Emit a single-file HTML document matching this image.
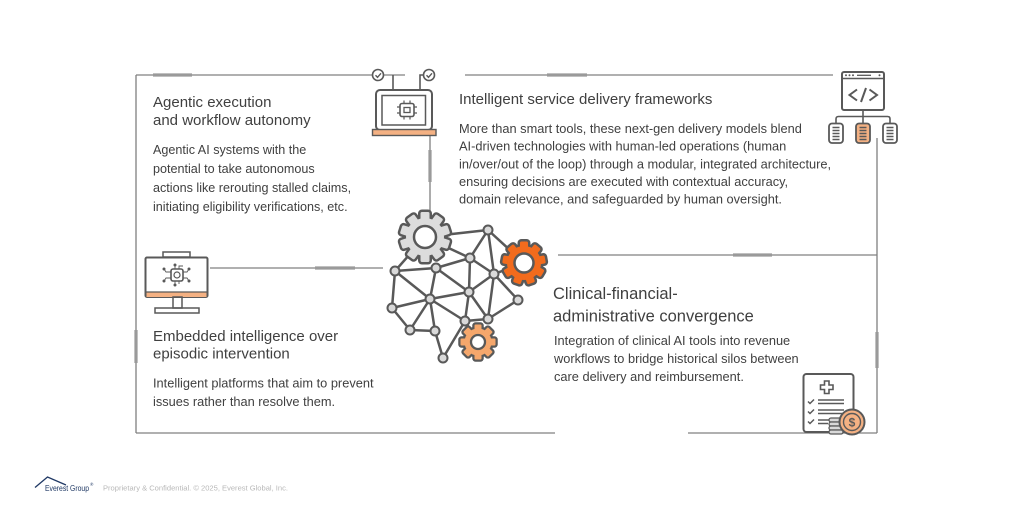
<!DOCTYPE html>
<html><head><meta charset="utf-8"><style>
html,body{margin:0;padding:0;background:#fff;}
svg{display:block;}
</style></head><body>
<svg width="1024" height="519" viewBox="0 0 1024 519" xmlns="http://www.w3.org/2000/svg" font-family="'Liberation Sans', Arial, sans-serif">
<defs>
  <g id="gA">
    <circle r="19"/>
    <rect x="-4.5" y="-25" width="9" height="9" rx="1.5" transform="rotate(0)"/>
    <rect x="-4.5" y="-25" width="9" height="9" rx="1.5" transform="rotate(36)"/>
    <rect x="-4.5" y="-25" width="9" height="9" rx="1.5" transform="rotate(72)"/>
    <rect x="-4.5" y="-25" width="9" height="9" rx="1.5" transform="rotate(108)"/>
    <rect x="-4.5" y="-25" width="9" height="9" rx="1.5" transform="rotate(144)"/>
    <rect x="-4.5" y="-25" width="9" height="9" rx="1.5" transform="rotate(180)"/>
    <rect x="-4.5" y="-25" width="9" height="9" rx="1.5" transform="rotate(216)"/>
    <rect x="-4.5" y="-25" width="9" height="9" rx="1.5" transform="rotate(252)"/>
    <rect x="-4.5" y="-25" width="9" height="9" rx="1.5" transform="rotate(288)"/>
    <rect x="-4.5" y="-25" width="9" height="9" rx="1.5" transform="rotate(324)"/>
  </g>
  <g id="gB">
    <circle r="17"/>
    <rect x="-4" y="-21.5" width="8" height="8" rx="1.5" transform="rotate(0)"/>
    <rect x="-4" y="-21.5" width="8" height="8" rx="1.5" transform="rotate(40)"/>
    <rect x="-4" y="-21.5" width="8" height="8" rx="1.5" transform="rotate(80)"/>
    <rect x="-4" y="-21.5" width="8" height="8" rx="1.5" transform="rotate(120)"/>
    <rect x="-4" y="-21.5" width="8" height="8" rx="1.5" transform="rotate(160)"/>
    <rect x="-4" y="-21.5" width="8" height="8" rx="1.5" transform="rotate(200)"/>
    <rect x="-4" y="-21.5" width="8" height="8" rx="1.5" transform="rotate(240)"/>
    <rect x="-4" y="-21.5" width="8" height="8" rx="1.5" transform="rotate(280)"/>
    <rect x="-4" y="-21.5" width="8" height="8" rx="1.5" transform="rotate(320)"/>
  </g>
  <g id="gC">
    <circle r="13.5"/>
    <rect x="-3.5" y="-17.5" width="7" height="7" rx="1" transform="rotate(0)"/>
    <rect x="-3.5" y="-17.5" width="7" height="7" rx="1" transform="rotate(45)"/>
    <rect x="-3.5" y="-17.5" width="7" height="7" rx="1" transform="rotate(90)"/>
    <rect x="-3.5" y="-17.5" width="7" height="7" rx="1" transform="rotate(135)"/>
    <rect x="-3.5" y="-17.5" width="7" height="7" rx="1" transform="rotate(180)"/>
    <rect x="-3.5" y="-17.5" width="7" height="7" rx="1" transform="rotate(225)"/>
    <rect x="-3.5" y="-17.5" width="7" height="7" rx="1" transform="rotate(270)"/>
    <rect x="-3.5" y="-17.5" width="7" height="7" rx="1" transform="rotate(315)"/>
  </g>
</defs>

<!-- frame lines -->
<g stroke="#808080" stroke-width="1.3" fill="none">
  <line x1="136" y1="75" x2="405" y2="75"/>
  <line x1="136" y1="75" x2="136" y2="433"/>
  <line x1="136" y1="433" x2="555" y2="433"/>
  <line x1="688" y1="433" x2="877" y2="433"/>
  <line x1="877" y1="138" x2="877" y2="433"/>
  <line x1="558" y1="255" x2="877" y2="255"/>
  <line x1="465" y1="75" x2="833" y2="75"/>
  <line x1="210" y1="268" x2="383" y2="268"/>
  <line x1="430" y1="135" x2="430" y2="214"/>
</g>
<g stroke="#9a9a9a" stroke-width="3.2" fill="none">
  <line x1="153" y1="75" x2="192" y2="75"/>
  <line x1="430" y1="150" x2="430" y2="182"/>
  <line x1="547" y1="75" x2="587" y2="75"/>
  <line x1="877" y1="332" x2="877" y2="368"/>
  <line x1="733" y1="255" x2="772" y2="255"/>
  <line x1="315" y1="268" x2="355" y2="268"/>
  <line x1="136" y1="330" x2="136" y2="363"/>
</g>

<!-- laptop icon -->
<g stroke="#595959" fill="none">
  <path d="M393 75 V90" stroke-width="1.6"/>
  <path d="M429 75 H420 V90" stroke-width="1.6"/>
  <circle cx="378" cy="75" r="5.5" fill="#fff" stroke-width="1.6"/>
  <path d="M375.5 75.3 l2 2 l3.5 -4" stroke-width="1.4"/>
  <circle cx="429" cy="75" r="5.5" fill="#fff" stroke-width="1.6"/>
  <path d="M426.5 75.3 l2 2 l3.5 -4" stroke-width="1.4"/>
  <rect x="376" y="90" width="56" height="40" rx="4" fill="#fff" stroke-width="2"/>
  <rect x="382" y="95.5" width="43.5" height="29.5" stroke-width="1.5"/>
  <rect x="372.5" y="129.5" width="63.5" height="6" fill="#f4b183" stroke-width="1.4"/>
  <rect x="400" y="103.5" width="14" height="13" rx="2" stroke-width="1.6"/>
  <rect x="404" y="107.5" width="6" height="5" stroke-width="1.3"/>
  <path d="M404 103.5v-3 M410 103.5v-3 M404 116.5v3 M410 116.5v3 M400 107h-3 M400 113h-3 M414 107h3 M414 113h3" stroke-width="1.2"/>
</g>

<!-- code icon -->
<g stroke="#595959" fill="none">
  <rect x="842" y="72" width="42" height="38" rx="2" fill="#fff" stroke-width="2"/>
  <line x1="842" y1="78.5" x2="884" y2="78.5" stroke-width="1.5"/>
  <circle cx="846" cy="75.3" r="1" fill="#595959" stroke="none"/>
  <circle cx="849.5" cy="75.3" r="1" fill="#595959" stroke="none"/>
  <circle cx="853" cy="75.3" r="1" fill="#595959" stroke="none"/>
  <line x1="857" y1="75.3" x2="871" y2="75.3" stroke-width="1.3"/>
  <circle cx="879.5" cy="75.3" r="1" fill="#595959" stroke="none"/>
  <path d="M857 89.5 L849.5 95 L857 100.5" stroke-width="2"/>
  <path d="M866 88 L861 102" stroke-width="2"/>
  <path d="M869.5 89.5 L877 95 L869.5 100.5" stroke-width="2"/>
  <path d="M863 110 V123" stroke-width="1.6"/>
  <path d="M836 123 V119 Q836 116.5 838.5 116.5 H887.5 Q890 116.5 890 119 V123" stroke-width="1.6"/>
  <rect x="829" y="123.5" width="14" height="19.5" rx="3" fill="#fff" stroke-width="1.8"/>
  <rect x="856" y="123.5" width="14" height="19.5" rx="3" fill="#f4b183" stroke-width="1.8"/>
  <rect x="883" y="123.5" width="14" height="19.5" rx="3" fill="#fff" stroke-width="1.8"/>
  <path d="M832.5 127.5h7 M832.5 130.5h7 M832.5 133.5h7 M832.5 136.5h7 M832.5 139.5h7" stroke-width="1.4"/>
  <path d="M859.5 127.5h7 M859.5 130.5h7 M859.5 133.5h7 M859.5 136.5h7 M859.5 139.5h7" stroke-width="1.4"/>
  <path d="M886.5 127.5h7 M886.5 130.5h7 M886.5 133.5h7 M886.5 136.5h7 M886.5 139.5h7" stroke-width="1.4"/>
</g>

<!-- monitor icon -->
<g stroke="#595959" fill="none">
  <rect x="163" y="252" width="27" height="5" stroke-width="1.5"/>
  <rect x="145.5" y="257.5" width="62" height="39.5" rx="1.5" fill="#fff" stroke-width="2"/>
  <rect x="146.5" y="292" width="60" height="5" fill="#f4b183" stroke="none"/>
  <line x1="145.5" y1="292" x2="207.5" y2="292" stroke-width="1.2"/>
  <rect x="173" y="297" width="9" height="11" stroke-width="1.5"/>
  <rect x="155" y="308" width="44" height="5" stroke-width="1.5"/>
  <rect x="171" y="269" width="12" height="12" rx="2" stroke-width="1.6"/>
  <circle cx="177" cy="275" r="3" stroke-width="1.2"/>
  <path d="M171 272 h-5 l-2 -3 M171 278 h-5 l-2 3 M183 272 h4 l2 -3 M183 278 h4 l2 3 M175 269 v-4 M179 269 v-3 h4 M175 281 v4 M179 281 v3" stroke-width="0.9"/>
  <circle cx="164" cy="269" r="1" fill="#595959"/>
  <circle cx="164" cy="281" r="1" fill="#595959"/>
  <circle cx="189" cy="269" r="1" fill="#595959"/>
  <circle cx="189" cy="281" r="1" fill="#595959"/>
  <circle cx="175" cy="265" r="1" fill="#595959"/>
  <circle cx="175" cy="285" r="1" fill="#595959"/>
</g>

<!-- document icon -->
<g stroke="#595959" fill="none">
  <rect x="803.5" y="374" width="50" height="58" rx="3" fill="#fff" stroke-width="2"/>
  <path d="M824.5 381 h4.5 v4 h4 v4.5 h-4 v4 h-4.5 v-4 h-4 v-4.5 h4 z" stroke-width="1.6"/>
  <path d="M808 401.5 l2 2 l4 -4 M808 411.5 l2 2 l4 -4 M808 421.5 l2 2 l4 -4" stroke-width="1.5"/>
  <path d="M818 400 h26 M818 403.5 h26 M818 410 h26 M818 413.5 h24 M818 420 h12 M818 423.5 h10" stroke-width="1.6"/>
  <rect x="829" y="418" width="14" height="4" rx="2" fill="#d9d9d9" stroke-width="1.3"/>
  <rect x="829" y="422" width="14" height="4" rx="2" fill="#d9d9d9" stroke-width="1.3"/>
  <rect x="829" y="426" width="14" height="4" rx="2" fill="#d9d9d9" stroke-width="1.3"/>
  <rect x="829" y="430" width="14" height="4" rx="2" fill="#d9d9d9" stroke-width="1.3"/>
  <circle cx="852" cy="422" r="12.5" fill="#f4b183" stroke-width="2"/>
  <circle cx="852" cy="422" r="8.5" stroke-width="1.4"/>
</g>
<text x="852" y="426.5" font-size="12" font-weight="bold" fill="#595959" text-anchor="middle">$</text>

<!-- network -->
<g stroke="#595959" stroke-width="2.5" stroke-linecap="round">
  <line x1="425" y1="237" x2="488" y2="230"/>
  <line x1="425" y1="237" x2="395" y2="271"/>
  <line x1="425" y1="237" x2="470" y2="258"/>
  <line x1="488" y1="230" x2="470" y2="258"/>
  <line x1="488" y1="230" x2="494" y2="274"/>
  <line x1="488" y1="230" x2="524" y2="263"/>
  <line x1="470" y1="258" x2="436" y2="268"/>
  <line x1="470" y1="258" x2="494" y2="274"/>
  <line x1="470" y1="258" x2="469" y2="292"/>
  <line x1="436" y1="268" x2="395" y2="271"/>
  <line x1="436" y1="268" x2="430" y2="299"/>
  <line x1="436" y1="268" x2="469" y2="292"/>
  <line x1="395" y1="271" x2="392" y2="308"/>
  <line x1="395" y1="271" x2="430" y2="299"/>
  <line x1="494" y1="274" x2="469" y2="292"/>
  <line x1="494" y1="274" x2="518" y2="300"/>
  <line x1="494" y1="274" x2="488" y2="319"/>
  <line x1="494" y1="274" x2="524" y2="263"/>
  <line x1="469" y1="292" x2="430" y2="299"/>
  <line x1="469" y1="292" x2="465" y2="321"/>
  <line x1="469" y1="292" x2="488" y2="319"/>
  <line x1="430" y1="299" x2="392" y2="308"/>
  <line x1="430" y1="299" x2="410" y2="330"/>
  <line x1="430" y1="299" x2="435" y2="331"/>
  <line x1="430" y1="299" x2="465" y2="321"/>
  <line x1="392" y1="308" x2="410" y2="330"/>
  <line x1="410" y1="330" x2="435" y2="331"/>
  <line x1="435" y1="331" x2="443" y2="358"/>
  <line x1="443" y1="358" x2="465" y2="321"/>
  <line x1="465" y1="321" x2="488" y2="319"/>
  <line x1="518" y1="300" x2="488" y2="319"/>
  <line x1="465" y1="321" x2="478" y2="342"/>
</g>

<!-- gears -->
<use href="#gA" transform="translate(425,237)" fill="#595959" stroke="#595959" stroke-width="5" stroke-linejoin="round"/>
<use href="#gA" transform="translate(425,237)" fill="#dcdcdc"/>
<circle cx="425" cy="237" r="11" fill="#fff" stroke="#595959" stroke-width="2.5"/>

<use href="#gB" transform="translate(524,263)" fill="#595959" stroke="#595959" stroke-width="5" stroke-linejoin="round"/>
<use href="#gB" transform="translate(524,263)" fill="#f26b1d"/>
<circle cx="524" cy="263" r="9.5" fill="#fff" stroke="#595959" stroke-width="2.5"/>

<use href="#gC" transform="translate(478,342)" fill="#595959" stroke="#595959" stroke-width="4.5" stroke-linejoin="round"/>
<use href="#gC" transform="translate(478,342)" fill="#f5a76c"/>
<circle cx="478" cy="342" r="7" fill="#fff" stroke="#595959" stroke-width="2.3"/>

<!-- nodes -->
<g fill="#d9d9d9" stroke="#595959" stroke-width="2">
  <circle cx="488" cy="230" r="4.5"/>
  <circle cx="470" cy="258" r="4.5"/>
  <circle cx="436" cy="268" r="4.5"/>
  <circle cx="395" cy="271" r="4.5"/>
  <circle cx="494" cy="274" r="4.5"/>
  <circle cx="469" cy="292" r="4.5"/>
  <circle cx="430" cy="299" r="4.5"/>
  <circle cx="518" cy="300" r="4.5"/>
  <circle cx="392" cy="308" r="4.5"/>
  <circle cx="465" cy="321" r="4.5"/>
  <circle cx="488" cy="319" r="4.5"/>
  <circle cx="410" cy="330" r="4.5"/>
  <circle cx="435" cy="331" r="4.5"/>
  <circle cx="443" cy="358" r="4.5"/>
</g>

<!-- text -->
<g fill="#404040">
  <text x="153" y="107" font-size="15">Agentic execution</text>
  <text x="153" y="125" font-size="15">and workflow autonomy</text>
  <text x="153" y="154" font-size="12.6">Agentic AI systems with the</text>
  <text x="153" y="173" font-size="12.6">potential to take autonomous</text>
  <text x="153" y="192" font-size="12.6">actions like rerouting stalled claims,</text>
  <text x="153" y="211" font-size="12.6">initiating eligibility verifications, etc.</text>

  <text x="459" y="104" font-size="15">Intelligent service delivery frameworks</text>
  <text x="459" y="133" font-size="12.8">More than smart tools, these next-gen delivery models blend</text>
  <text x="459" y="150.7" font-size="12.8">AI-driven technologies with human-led operations (human</text>
  <text x="459" y="168.4" font-size="12.8">in/over/out of the loop) through a modular, integrated architecture,</text>
  <text x="459" y="186" font-size="12.8">ensuring decisions are executed with contextual accuracy,</text>
  <text x="459" y="203.7" font-size="12.8">domain relevance, and safeguarded by human oversight.</text>

  <text x="153" y="341" font-size="15">Embedded intelligence over</text>
  <text x="153" y="358.5" font-size="15">episodic intervention</text>
  <text x="153" y="387.5" font-size="12.8">Intelligent platforms that aim to prevent</text>
  <text x="153" y="406" font-size="12.8">issues rather than resolve them.</text>

  <text x="553" y="299" font-size="16.5">Clinical-financial-</text>
  <text x="553" y="321.5" font-size="16.5">administrative convergence</text>
  <text x="554" y="345" font-size="12.8">Integration of clinical AI tools into revenue</text>
  <text x="554" y="363" font-size="12.8">workflows to bridge historical silos between</text>
  <text x="554" y="381" font-size="12.8">care delivery and reimbursement.</text>
</g>

<!-- footer -->
<path d="M35 487.5 L47.5 477 L66 485" fill="none" stroke="#1f3864" stroke-width="1.3"/>
<text x="45" y="491" font-size="8.5" fill="#1f3864" textLength="44" lengthAdjust="spacingAndGlyphs">Everest Group</text>
<text x="90" y="486" font-size="4.5" fill="#1f3864">®</text>
<text x="103" y="490.5" font-size="7" fill="#b8b8b8" textLength="185" lengthAdjust="spacingAndGlyphs">Proprietary &amp; Confidential. © 2025, Everest Global, Inc.</text>
</svg>
</body></html>
